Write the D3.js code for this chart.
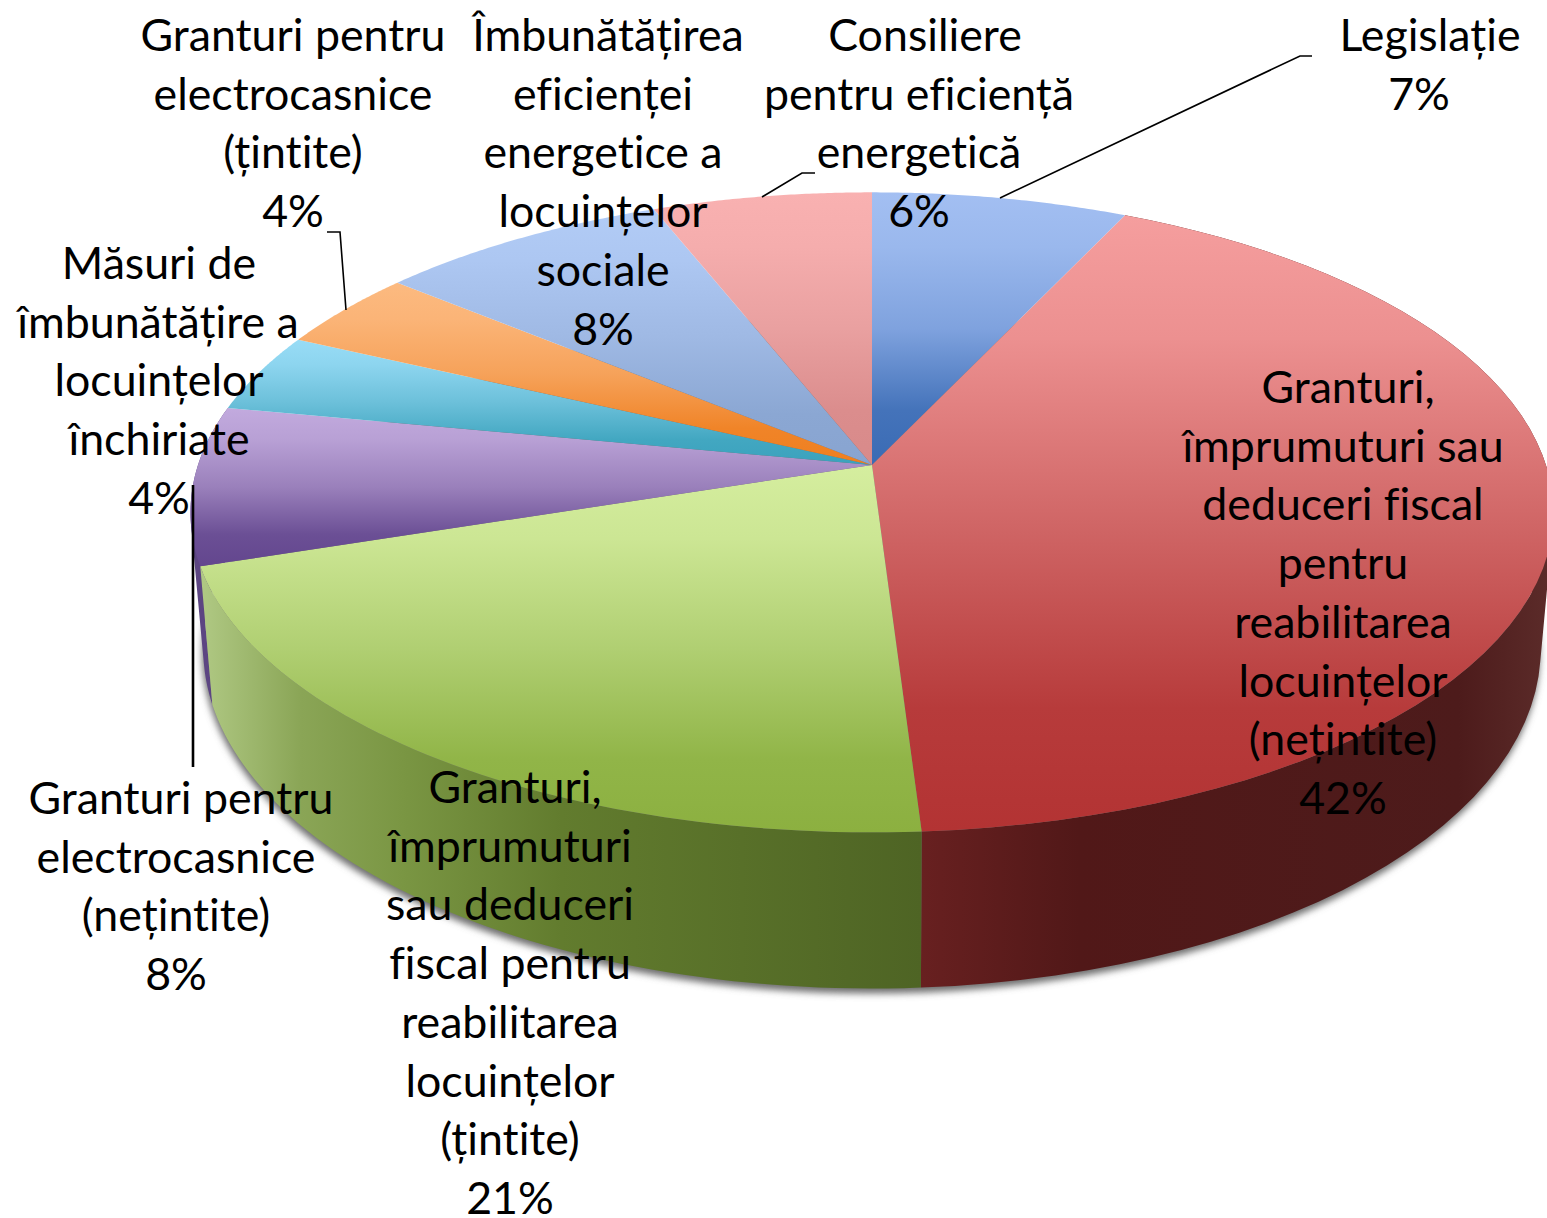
<!DOCTYPE html>
<html><head><meta charset="utf-8">
<script src="https://cdn.jsdelivr.net/npm/d3@7"></script>
<style>html,body{margin:0;padding:0;background:#fff}svg{display:block}text{font-family:Lato,sans-serif;font-size:44.7px;fill:#000;text-anchor:middle;font-variant-ligatures:none}</style>
</head><body><div id="c"></div>
<script>
const categories=["Legislație","Granturi, împrumuturi sau deduceri fiscal pentru reabilitarea locuințelor (nețintite)","Granturi, împrumuturi sau deduceri fiscal pentru reabilitarea locuințelor (țintite)","Granturi pentru electrocasnice (nețintite)","Măsuri de îmbunătățire a locuințelor închiriate","Granturi pentru electrocasnice (țintite)","Îmbunătățirea eficienței energetice a locuințelor sociale","Consiliere pentru eficiență energetică"];
const values=[7,42,21,8,4,4,8,6];
const faceLight=["#a3bff2","#f59e9e","#d5ee9f","#c2aade","#98dcf6","#fcba80","#b2ccf6","#f9b1b1"];
const faceMid=["#7fa2de","#d06666","#b0cf72","#9a80bb","#6cc0da","#f6a25a","#9fb9e4","#e9a0a0"];
const faceDark=["#3a6bb4","#b33333","#8cb040","#63468e","#3aa2bd","#ef7f1f","#88a4d0","#d88a8a"];
const wallColors=[null,["#682020","#511818","#4d1b1b","#5c2c2a"],["#b0c984","#8aa556","#7a9643","#627c2e","#4e6424"],["#5c4582","#5c4582"],null,null,null,null];
const wallStops=[null,[0,0.25,0.85,1],[0,0.14,0.28,0.5,1],[0,1],null,null,null,null];
const labelLines=[["Legislație","7%"],["Granturi,","împrumuturi sau","deduceri fiscal","pentru","reabilitarea","locuințelor","(nețintite)","42%"],["Granturi,","împrumuturi","sau deduceri","fiscal pentru","reabilitarea","locuințelor","(țintite)","21%"],["Granturi pentru","electrocasnice","(nețintite)","8%"],["Măsuri de","îmbunătățire a","locuințelor","închiriate","4%"],["Granturi pentru","electrocasnice","(țintite)","4%"],["Îmbunătățirea","eficienței","energetice a","locuințelor","sociale","8%"],["Consiliere","pentru eficiență","energetică","6%"]];

// layout
const W=1547,H=1218;
const topDisc={x:872,y:465,rx:674,ry:313,k:0.148};
const botDisc={x:872,y:597,rx:661,ry:332,k:0.152};
const labelX=[[1430,1419],[1348,1343,1343,1343,1343,1343,1343,1343],[515,510,510,510,510,510,510,510],[181,176,176,176],[159,158,159,159,159],[293,293,293,293],[608,603,603,603,603,603],[925,919,919,919]];
const labelY0=[51,403,803,814,279,51,51,51];
const lineStep=58.7;
const leaders=[{w:1.6,p:[[1312,56],[1300,56],[1000,198]]},{w:1.6,p:[[815,173],[802,173],[762,197]]},{w:1.6,p:[[327,232],[340,232],[346,310]]},{w:2.6,p:[[193,485],[193,767]]}];

const svg=d3.select("#c").append("svg").attr("width",W).attr("height",H);
const defs=svg.append("defs");
const arcs=d3.pie().sort(null).value(d=>d)(values);
const proj=(d,a)=>{const den=1+d.k*Math.cos(a);return [d.x+d.rx*Math.sin(a)/den,d.y-d.ry*Math.cos(a)/den];};
const angles=(s)=>d3.range(0,61).map(i=>s.startAngle+(s.endAngle-s.startAngle)*i/60);
const line=d3.line();

defs.append("filter").attr("id","blur").attr("x","-5%").attr("y","-5%").attr("width","110%").attr("height","110%").append("feGaussianBlur").attr("stdDeviation",3.5);

// shadow
const full=d3.range(0,361,2).map(t=>t*Math.PI/180);
svg.append("path").attr("d",line(full.map(a=>{const p=proj(botDisc,a);return [p[0]-1,p[1]+5];}))+"Z").attr("fill","#6e6e6e").attr("filter","url(#blur)");

// gradients
arcs.forEach((s,i)=>{
  const pts=[[topDisc.x,topDisc.y],...angles(s).map(a=>proj(topDisc,a))];
  const [y0,y1]=d3.extent(pts,p=>p[1]);
  const g=defs.append("linearGradient").attr("id","face"+i).attr("gradientUnits","userSpaceOnUse").attr("x1",0).attr("x2",0).attr("y1",y0).attr("y2",y1);
  [[0,faceLight[i]],[0.2,d3.interpolateRgb(faceLight[i],faceMid[i])(0.25)],[0.5,faceMid[i]],[0.8,d3.interpolateRgb(faceMid[i],faceDark[i])(0.85)],[1,faceDark[i]]]
    .forEach(([o,c])=>g.append("stop").attr("offset",o).attr("stop-color",c));
  if(wallColors[i]){
    const xs=[...angles(s).map(a=>proj(topDisc,a)[0]),...angles(s).map(a=>proj(botDisc,a)[0])];
    const [x0,x1]=d3.extent(xs);
    const wg=defs.append("linearGradient").attr("id","wall"+i).attr("gradientUnits","userSpaceOnUse").attr("y1",0).attr("y2",0).attr("x1",x0).attr("x2",x1);
    wallColors[i].forEach((c,j)=>wg.append("stop").attr("offset",wallStops[i][j]).attr("stop-color",c));
  }
});

// walls (purple behind, then red, then green)
[3,1,2].forEach(i=>{
  const as=angles(arcs[i]);
  let d="";
  for(let j=0;j<as.length-1;j++){
    const q=[proj(topDisc,as[j]),proj(topDisc,as[j+1]),proj(botDisc,as[j+1]),proj(botDisc,as[j])];
    if(d3.polygonArea(q)<0)q.reverse();
    d+=line(q)+"Z";
  }
  svg.append("path").attr("d",d).attr("fill",`url(#wall${i})`);
});

// top faces
svg.append("g").selectAll("path").data(arcs).join("path")
 .attr("d",s=>line([[topDisc.x,topDisc.y],...angles(s).map(a=>proj(topDisc,a))])+"Z")
 .attr("fill",(s,i)=>`url(#face${i})`);

// leaders
svg.append("g").selectAll("path").data(leaders).join("path")
 .attr("d",d=>line(d.p)).attr("fill","none").attr("stroke","#000").attr("stroke-width",d=>d.w);

// labels
labelLines.forEach((ls,i)=>{
  svg.append("g").selectAll("text").data(ls).join("text")
   .attr("x",(d,j)=>labelX[i][j]).attr("y",(d,j)=>labelY0[i]+j*lineStep).text(d=>d);
});
</script></body></html>
